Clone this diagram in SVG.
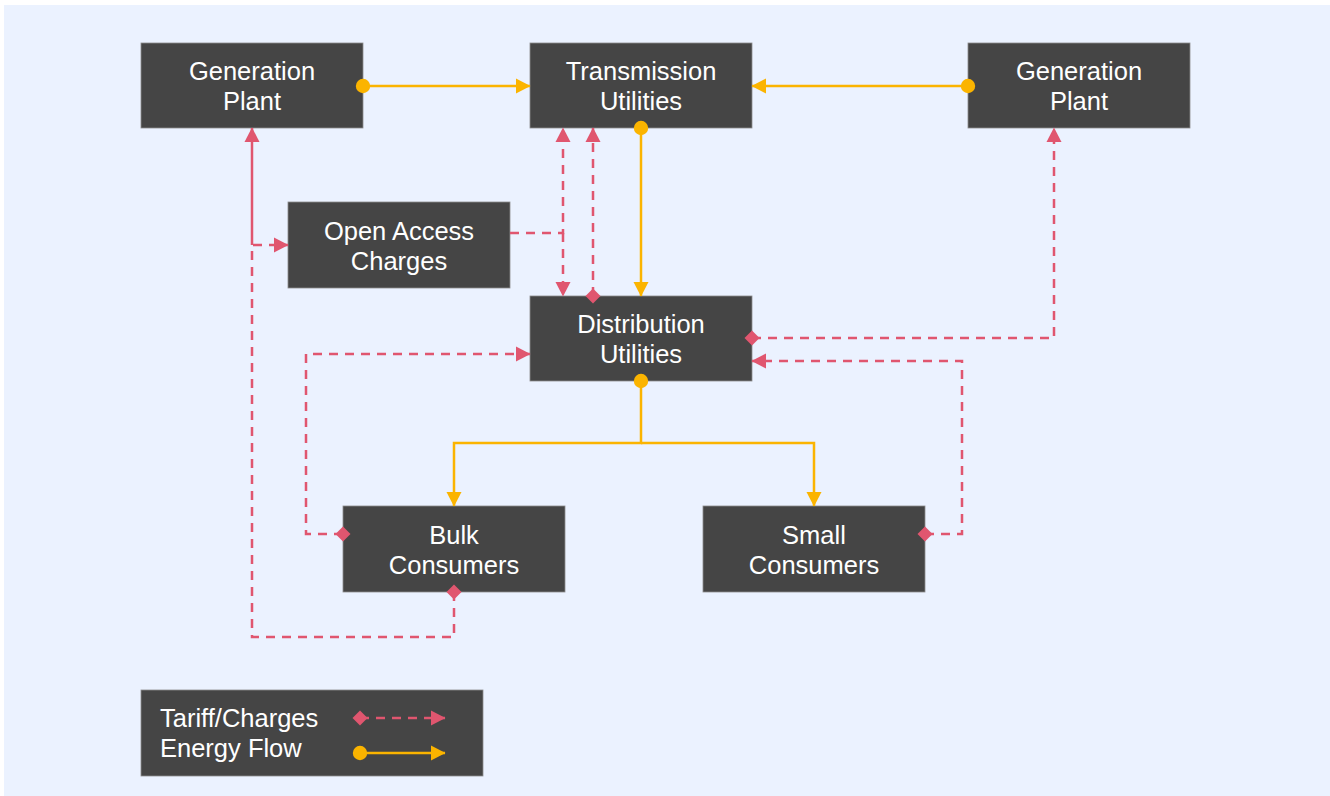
<svg xmlns="http://www.w3.org/2000/svg" width="1330" height="796" viewBox="0 0 1330 796">
<style>
.node rect{fill:#454545;stroke:#8c8c8c;stroke-width:0.8}
.node text,.legend text{fill:#ffffff;font-family:"Liberation Sans",Arial,sans-serif;font-size:25.5px;text-anchor:middle}
.legend text{text-anchor:start}
.e{fill:none;stroke:#fbb400;stroke-width:2.5}
.t{fill:none;stroke:#e0566f;stroke-width:2.5;stroke-dasharray:9 7}
.ts{fill:none;stroke:#e0566f;stroke-width:2.5}
</style>
<defs>
<marker id="ea" markerUnits="userSpaceOnUse" markerWidth="16" markerHeight="16" viewBox="0 0 16 16" refX="15" refY="8" orient="auto"><path d="M1,0.5 L15.5,8 L1,15.5 Z" fill="#fbb400"/></marker>
<marker id="ed" markerUnits="userSpaceOnUse" markerWidth="16" markerHeight="16" viewBox="0 0 16 16" refX="8" refY="8" orient="auto"><circle cx="8" cy="8" r="7.2" fill="#fbb400"/></marker>
<marker id="ta" markerUnits="userSpaceOnUse" markerWidth="16" markerHeight="16" viewBox="0 0 16 16" refX="15" refY="8" orient="auto"><path d="M1,0.5 L15.5,8 L1,15.5 Z" fill="#e0566f"/></marker>
<marker id="td" markerUnits="userSpaceOnUse" markerWidth="16" markerHeight="16" viewBox="0 0 16 16" refX="8" refY="8" orient="auto"><path d="M8,0.5 L15.5,8 L8,15.5 L0.5,8 Z" fill="#e0566f"/></marker>
</defs>
<rect x="0" y="0" width="1330" height="796" fill="#ffffff"/>
<rect x="4" y="5" width="1326" height="791" fill="#ebf2ff"/>

<g id="gen-left" class="node"><rect x="141" y="43" width="222" height="85"/><text x="252" y="80">Generation</text><text x="252" y="110">Plant</text></g>
<g id="transmission" class="node"><rect x="530" y="43" width="222" height="85"/><text x="641" y="80">Transmission</text><text x="641" y="110">Utilities</text></g>
<g id="gen-right" class="node"><rect x="968" y="43" width="222" height="85"/><text x="1079" y="80">Generation</text><text x="1079" y="110">Plant</text></g>
<g id="open-access" class="node"><rect x="288" y="202" width="222" height="86"/><text x="399" y="240">Open Access</text><text x="399" y="270">Charges</text></g>
<g id="distribution" class="node"><rect x="530" y="296" width="222" height="85"/><text x="641" y="333">Distribution</text><text x="641" y="363">Utilities</text></g>
<g id="bulk" class="node"><rect x="343" y="506" width="222" height="86"/><text x="454" y="544">Bulk</text><text x="454" y="574">Consumers</text></g>
<g id="small" class="node"><rect x="703" y="506" width="222" height="86"/><text x="814" y="544">Small</text><text x="814" y="574">Consumers</text></g>

<g id="connectors">
<path class="e" d="M363,86 H530" marker-start="url(#ed)" marker-end="url(#ea)"/>
<path class="e" d="M968,86 H752" marker-start="url(#ed)" marker-end="url(#ea)"/>
<path class="e" d="M641,128 V296" marker-start="url(#ed)" marker-end="url(#ea)"/>
<path class="e" d="M641,381 V443 H454 V506" marker-start="url(#ed)" marker-end="url(#ea)"/>
<path class="e" d="M641,443 H814 V506" marker-end="url(#ea)"/>

<path class="t" d="M593,296 V128" marker-start="url(#td)" marker-end="url(#ta)"/>
<path class="t" d="M510,233 H563 V128" marker-end="url(#ta)"/>
<path class="t" d="M563,233 V296" marker-end="url(#ta)"/>
<path class="t" d="M752,338 H1054 V128" marker-start="url(#td)" marker-end="url(#ta)"/>
<path class="t" d="M925,534 H962 V361 H752" marker-start="url(#td)" marker-end="url(#ta)"/>
<path class="t" d="M343,534 H306 V354 H530" marker-start="url(#td)" marker-end="url(#ta)"/>
<path class="t" d="M454,592 V637 H252 V245 H288" marker-start="url(#td)" marker-end="url(#ta)"/>
<path class="ts" d="M252,245 V128" marker-end="url(#ta)"/>
</g>

<g id="legend" class="legend">
<rect x="141" y="690" width="342" height="86" fill="#454545" stroke="#8c8c8c" stroke-width="0.8"/>
<text x="160" y="727">Tariff/Charges</text>
<text x="160" y="757">Energy Flow</text>
<path class="t" d="M360,718 H445" marker-start="url(#td)" marker-end="url(#ta)"/>
<path class="e" d="M360,753 H445" marker-start="url(#ed)" marker-end="url(#ea)"/>
</g>
</svg>
